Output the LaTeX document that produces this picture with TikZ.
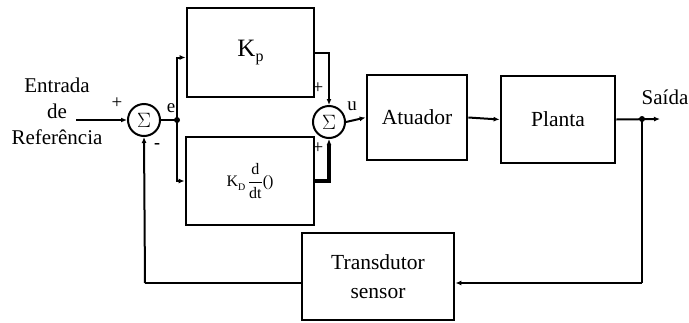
\documentclass[tikz,border=0pt]{standalone}
\usepackage{fontspec}
\setmainfont{Liberation Serif}
\usetikzlibrary{arrows.meta,calc}
\begin{document}
\begin{tikzpicture}[x=1pt,y=-1pt,
  blk/.style={draw,line width=2.8pt,inner sep=0pt,font=\fontsize{21.5}{24}\selectfont,align=center},
  sumc/.style={draw,circle,line width=2pt,minimum size=32pt,inner sep=0pt,font=\fontsize{20}{22}\selectfont},
  conn/.style={line width=2pt},
  arr/.style={line width=2pt,-{Latex[length=6pt,width=5pt]}},
  lbl/.style={font=\fontsize{19}{20}\selectfont,inner sep=0pt},
  dotn/.style={circle,fill,inner sep=0pt,minimum size=6pt}]
\useasboundingbox (0,0) rectangle (689,322);
% blocks
\node[blk,minimum width=127pt,minimum height=89pt] (kp) at (250.5,52.5) {\fontsize{25}{26}\selectfont K\raisebox{-0.2em}{\fontsize{16}{17}\selectfont p}};
\node[blk,minimum width=128pt,minimum height=88pt] (kd) at (250,181)
  {\fontsize{16}{18}\selectfont K\raisebox{-0.25em}{\fontsize{10}{12}\selectfont D}\,$\displaystyle\frac{\mbox{d}}{\mbox{dt}}$()};
\node[blk,minimum width=100pt,minimum height=85pt] (atu) at (417,117.5) {Atuador};
\node[blk,minimum width=114pt,minimum height=87pt] (pla) at (558,119.5) {Planta};
\node[blk,minimum width=152pt,minimum height=87pt,font=\fontsize{21.5}{29}\selectfont] (tra) at (378,276.5) {Transdutor\\sensor};
% summing junctions
\node[sumc] (s1) at (144,120) {$\Sigma$};
\node[sumc] (s2) at (329,122) {$\Sigma$};
% points
\coordinate (in) at (76,120);
\node[dotn] (j1) at (177,120) {};
\node[dotn] (j2) at (642,119) {};
\coordinate (out) at (660,119);
\coordinate (fbr) at (642,283);
\coordinate (fbl) at (145,283);
% labels
\node[font=\fontsize{21}{26}\selectfont,align=center] (ref) at (57,111) {Entrada\\de\\Referência};
\node[lbl] (p1) at (117,103) {+};
\node[font=\bfseries\fontsize{18}{20}\selectfont,inner sep=0pt] (m1) at (157,146) {-};
\node[lbl] (e) at (171,108) {e};
\node[lbl] (p2) at (318,88) {+};
\node[lbl] (p3) at (318,148) {+};
\node[lbl] (u) at (352,106) {u};
\node[font=\fontsize{21}{24}\selectfont,inner sep=0pt] (sai) at (665,97) {Saída};
% connectors
\draw[arr] (in) -- (s1.west);
\draw[conn] (s1.east) -- (j1.center);
\draw[arr] (j1.center) |- ($(kp.west)+(0,5)$);
\draw[arr] (j1.center) |- (kd.west);
\draw[arr] (kp.east) -| (s2.north);
\draw[arr,line width=3.2pt] (kd.east) -| (s2.south);
\draw[arr] (s2.east) -- (atu.west);
\draw[arr] (atu.east) -- (pla.west);
\draw[arr] (pla.east) -- (out);
\draw[conn,line width=2.5pt] (j2.center) -- (fbr);
\draw[arr] (fbr) -- (tra.east |- fbr);
\draw[conn] (tra.west |- fbl) -- (fbl);
\draw[arr] (fbl) -- (s1.south);
\end{tikzpicture}
\end{document}
